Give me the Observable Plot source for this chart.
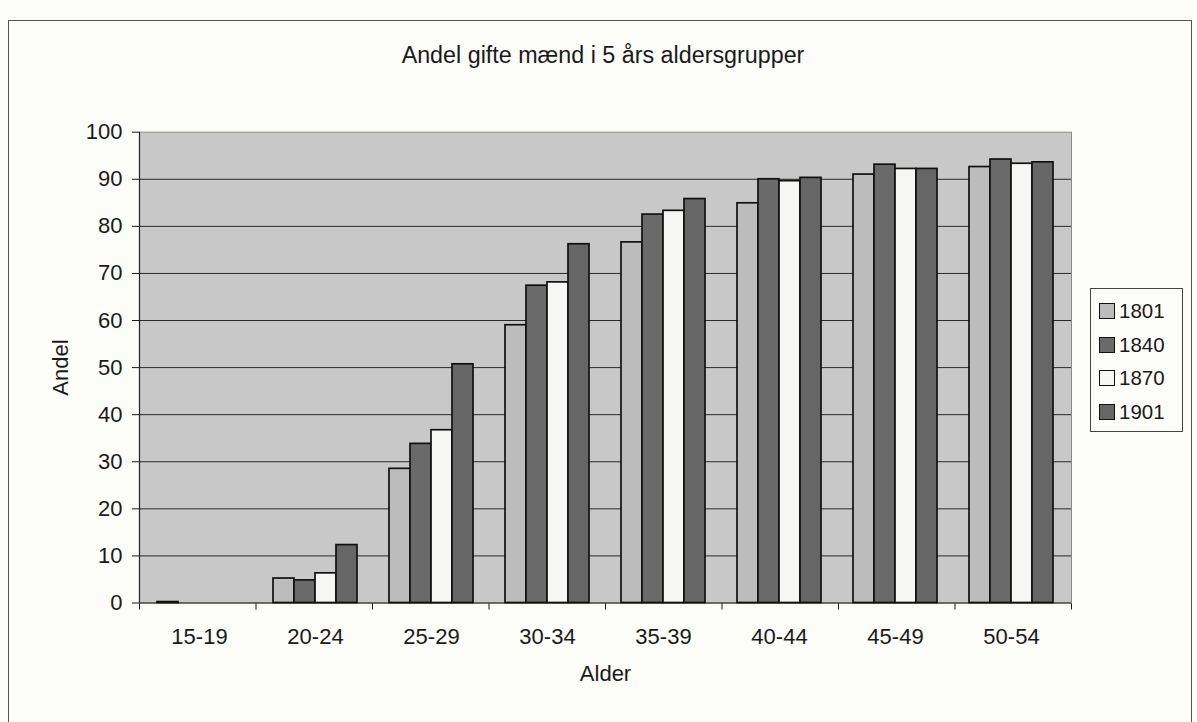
<!DOCTYPE html>
<html>
<head>
<meta charset="utf-8">
<script src="https://cdn.jsdelivr.net/npm/d3@7"></script>
<script src="https://cdn.jsdelivr.net/npm/@observablehq/plot@0.6"></script>
<style>
  body { margin: 0; background: #fcfcf9; font-family: "Liberation Sans", Arial, sans-serif; }
  #frame { position: absolute; left: 8px; top: 20px; width: 1184px; height: 720px; border: 1.5px solid #555; box-sizing: border-box; }
  #title { position: absolute; left: 603px; top: 44px; transform: translateX(-50%); font-size: 23.3px; line-height: 1; white-space: nowrap; color: #1a1a1a; }
  .layer { position: absolute; left: 0; top: 100px; }
  #legend { position: absolute; left: 1090px; top: 288px; width: 93px; height: 144px; box-sizing: border-box; border: 1px solid #444; padding-top: 5px; background: #fcfcf9; }
  .item { height: 33.5px; line-height: 33.5px; font-size: 20.5px; color: #1a1a1a; white-space: nowrap; }
  .sw { display: inline-block; width: 14px; height: 14px; border: 1.5px solid #111; margin-left: 8px; margin-right: 4px; vertical-align: -1px; }
</style>
</head>
<body>
<div id="frame"></div>
<div id="title">Andel gifte mænd i 5 års aldersgrupper</div>
<div id="under" class="layer"></div>
<div id="bars" class="layer"></div>
<div id="legend"></div>
<script>
const categories = ["15-19", "20-24", "25-29", "30-34", "35-39", "40-44", "45-49", "50-54"];
const series = ["1801", "1840", "1870", "1901"];
const v1801 = [0.2, 5.2, 28.5, 59.0, 76.6, 84.9, 91.0, 92.6];
const v1840 = [0, 4.8, 33.8, 67.4, 82.5, 90.0, 93.1, 94.2];
const v1870 = [0, 6.3, 36.7, 68.1, 83.3, 89.6, 92.2, 93.3];
const v1901 = [0, 12.3, 50.7, 76.2, 85.8, 90.3, 92.2, 93.6];
const yTicks = [0, 10, 20, 30, 40, 50, 60, 70, 80, 90, 100];
const colors = ["#bcbcbc", "#6a6a6a", "#f6f6f4", "#666666"];

const valuesBySeries = [v1801, v1840, v1870, v1901];
const rows = [];
categories.forEach((c, i) => {
  series.forEach((s, j) => rows.push({group: c, series: s, value: valuesBySeries[j][i]}));
});

const W = 1197, H = 600;
const M = {marginLeft: 139, marginRight: 126, marginTop: 31.7, marginBottom: 97.5};
const font = {background: "transparent", fontFamily: "Liberation Sans, Arial, sans-serif", fontSize: "22px", color: "#1a1a1a"};

// Background layer: plot area, gridlines, y axis, boundary ticks
const under = Plot.plot({
  width: W, height: H, ...M,
  style: font,
  x: {domain: [0, categories.length], ticks: d3.range(categories.length + 1), tickFormat: () => "", tickSize: 7, label: null},
  y: {domain: [0, 100], ticks: yTicks, tickSize: 7, tickPadding: 10, label: "Andel", labelAnchor: "center", labelOffset: 87, labelArrow: false},
  marks: [
    Plot.frame({fill: "#c8c8c8", stroke: "#8a8a8a"}),
    Plot.ruleY(yTicks.filter(t => t > 0 && t < 100), {stroke: "#2a2a2a", strokeWidth: 1}),
    Plot.ruleX([0], {stroke: "#222", strokeWidth: 1.2}),
    Plot.ruleY([0], {stroke: "#222", strokeWidth: 1.2})
  ]
});
document.getElementById("under").appendChild(under);

// Bars layer
const bars = Plot.plot({
  width: W, height: H, ...M,
  style: font,
  facet: {data: rows, x: "group"},
  fx: {domain: categories, paddingInner: 0.28, paddingOuter: 0.14, axis: "bottom", tickSize: 0, tickPadding: 25, label: "Alder", labelAnchor: "center", labelOffset: 78, labelArrow: false},
  x: {domain: series, padding: 0, axis: null},
  y: {domain: [0, 100], axis: null},
  color: {domain: series, range: colors},
  marks: [
    Plot.barY(rows, {x: "series", y: "value", fill: "series", stroke: "#111", strokeWidth: 1.7, filter: d => d.value > 0})
  ]
});
document.getElementById("bars").appendChild(bars);

// Legend
const legend = document.getElementById("legend");
series.forEach((s, j) => {
  const item = document.createElement("div");
  item.className = "item";
  const sw = document.createElement("span");
  sw.className = "sw";
  sw.style.background = colors[j];
  item.appendChild(sw);
  item.appendChild(document.createTextNode(s));
  legend.appendChild(item);
});
</script>
</body>
</html>
